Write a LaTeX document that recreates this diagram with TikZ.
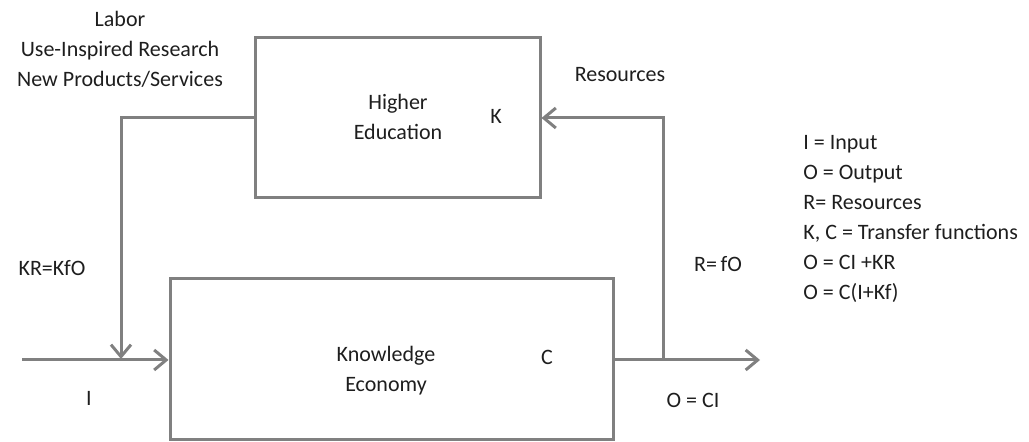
\documentclass[tikz,border=0pt]{standalone}
\usepackage{fontspec}
\setmainfont{Carlito}
\usetikzlibrary{arrows.meta,positioning}
\definecolor{linegray}{RGB}{128,128,128}
\definecolor{textgray}{RGB}{30,30,30}

\begin{document}
\begin{tikzpicture}[x=0.5pt,y=-0.5pt,
        block/.style={draw=linegray, line width=1.5pt, inner sep=0pt},
        flow/.style={draw=linegray, line width=1.5pt, -{Straight Barb[length=6pt,width=10pt,line width=1.5pt]}},
        wire/.style={draw=linegray, line width=1.5pt},
        lbl/.style={text=textgray, font=\fontsize{11}{15}\selectfont, inner sep=0pt}]
    \useasboundingbox (0,0) rectangle (1029,442);

    % boxes
    \node[block, minimum width=142.5pt, minimum height=80pt] (he) at (397.5,118) {};
    \node[block, minimum width=221.5pt, minimum height=80.5pt] (ke) at (391.5,359.5) {};
    \node[lbl, align=center] (helbl) at (398,117) {Higher\\Education};
    \node[lbl] (k) at (496,116) {K};
    \node[lbl, align=center] (kelbl) at (386,371) {Knowledge\\Economy};
    \node[lbl] (c) at (547,357) {C};

    % corner points of the loops
    \coordinate (in) at (22,360);
    \coordinate (fbl) at (121,118);
    \coordinate (join) at (121,359);
    \coordinate (tap) at (663,360);
    \coordinate (fbr) at (663,118);
    \coordinate (out) at (760,360);

    % connectors
    \draw[flow] (in) -- (ke.west |- in);
    \draw[flow] (he.west |- fbl) -- (fbl) -- (join);
    \draw[flow] (ke.east |- out) -- (out);
    \draw[flow] (tap) -- (fbr) -- (he.east |- fbr);

    % labels
    \node[lbl, align=center] (inputs) at (120,49) {Labor\\Use-Inspired Research\\New Products/Services};
    \node[lbl] (res) at (620,75) {Resources};
    \node[lbl] (kr) at (52,268) {KR=KfO};
    \node[lbl] (i) at (89,398) {I};
    \node[lbl] (rf) at (718,264) {R=\,fO};
    \node[lbl] (oci) at (693,400) {O = CI};
    \node[lbl, align=left, anchor=west] (legend) at (803,219)
        {I = Input\\O = Output\\R= Resources\\K, C = Transfer functions\\O = CI +KR\\O = C(I+Kf)};
\end{tikzpicture}
\end{document}
